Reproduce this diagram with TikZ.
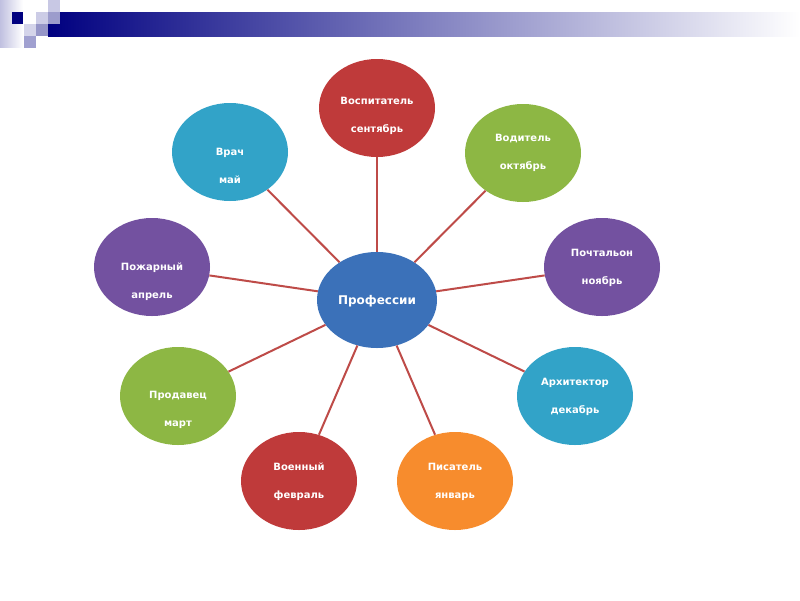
\documentclass[tikz,border=0pt]{standalone}
\usepackage{fontspec}
\setmainfont{DejaVu Sans}
\usetikzlibrary{shapes.geometric}
\definecolor{cblue}{HTML}{3B71B9}
\definecolor{cred}{HTML}{BF3A3A}
\definecolor{cgreen}{HTML}{8DB744}
\definecolor{cpurple}{HTML}{7351A0}
\definecolor{cteal}{HTML}{32A3C8}
\definecolor{corange}{HTML}{F78C2D}
\definecolor{linkred}{HTML}{BE4B48}
\definecolor{navy}{HTML}{000080}
\definecolor{sqA}{HTML}{C8C8E4}
\definecolor{sqB}{HTML}{CCCCE6}
\definecolor{sqC}{HTML}{9C9CCC}
\definecolor{sqD}{HTML}{D4D4EA}
\definecolor{sqE}{HTML}{9696C8}
\definecolor{sqF}{HTML}{A0A0D0}
\definecolor{sqL}{HTML}{C0C0E0}
\begin{document}
\begin{tikzpicture}[x=1pt,y=-1pt,
  bub/.style={ellipse, minimum width=116pt, minimum height=98pt, inner sep=0pt},
  lbl/.style={text=white, font=\fontsize{10}{12}\selectfont\bfseries, anchor=base, inner sep=0pt},
  link/.style={draw=linkred, line width=2pt}]
\useasboundingbox (0,0) rectangle (800,600);
\fill[white] (0,0) rectangle (800,600);
% header
\shade[left color=navy, right color=white] (48,12) rectangle (800,36);
\shade[left color=sqL, right color=white] (0,0) rectangle (23,47);
\fill[navy] (12,12) rectangle (23,24);
\fill[sqA] (48,0) rectangle (60,12);
\fill[sqB] (36,12) rectangle (48,24);
\fill[sqC] (48,12) rectangle (60,24);
\fill[sqD] (24,24) rectangle (36,36);
\fill[sqE] (36,24) rectangle (48,36);
\fill[sqF] (24,36) rectangle (36,48);
% centre
\node[bub, fill=cblue, minimum width=120pt, minimum height=96pt] (c) at (377,300) {};
\node[lbl, font=\fontsize{12}{14}\selectfont\bfseries] (c-t) at (377,304.4) {Профессии};
% outer bubbles
\foreach \n/\x/\y/\col/\a/\b/\ya in {
  vosp/377/108/cred/Воспитатель/сентябрь/101,
  vodi/523/153/cgreen/Водитель/октябрь/138,
  poch/602/267/cpurple/Почтальон/ноябрь/253,
  arch/575/396/cteal/Архитектор/декабрь/382,
  pisa/455/481/corange/Писатель/январь/467,
  voen/299/481/cred/Военный/февраль/467,
  prod/178/396/cgreen/Продавец/март/395,
  pozh/152/267/cpurple/Пожарный/апрель/267,
  vrach/230/152/cteal/Врач/май/152}{
  \node[bub, fill=\col] (\n) at (\x,\y) {};
  \node[lbl] (\n-a) at (\x,\ya+3.6) {\a};
  \node[lbl] (\n-b) at (\x,\ya+31.6) {\b};
  \draw[link] (\n) -- (c);
}
\end{tikzpicture}
\end{document}
